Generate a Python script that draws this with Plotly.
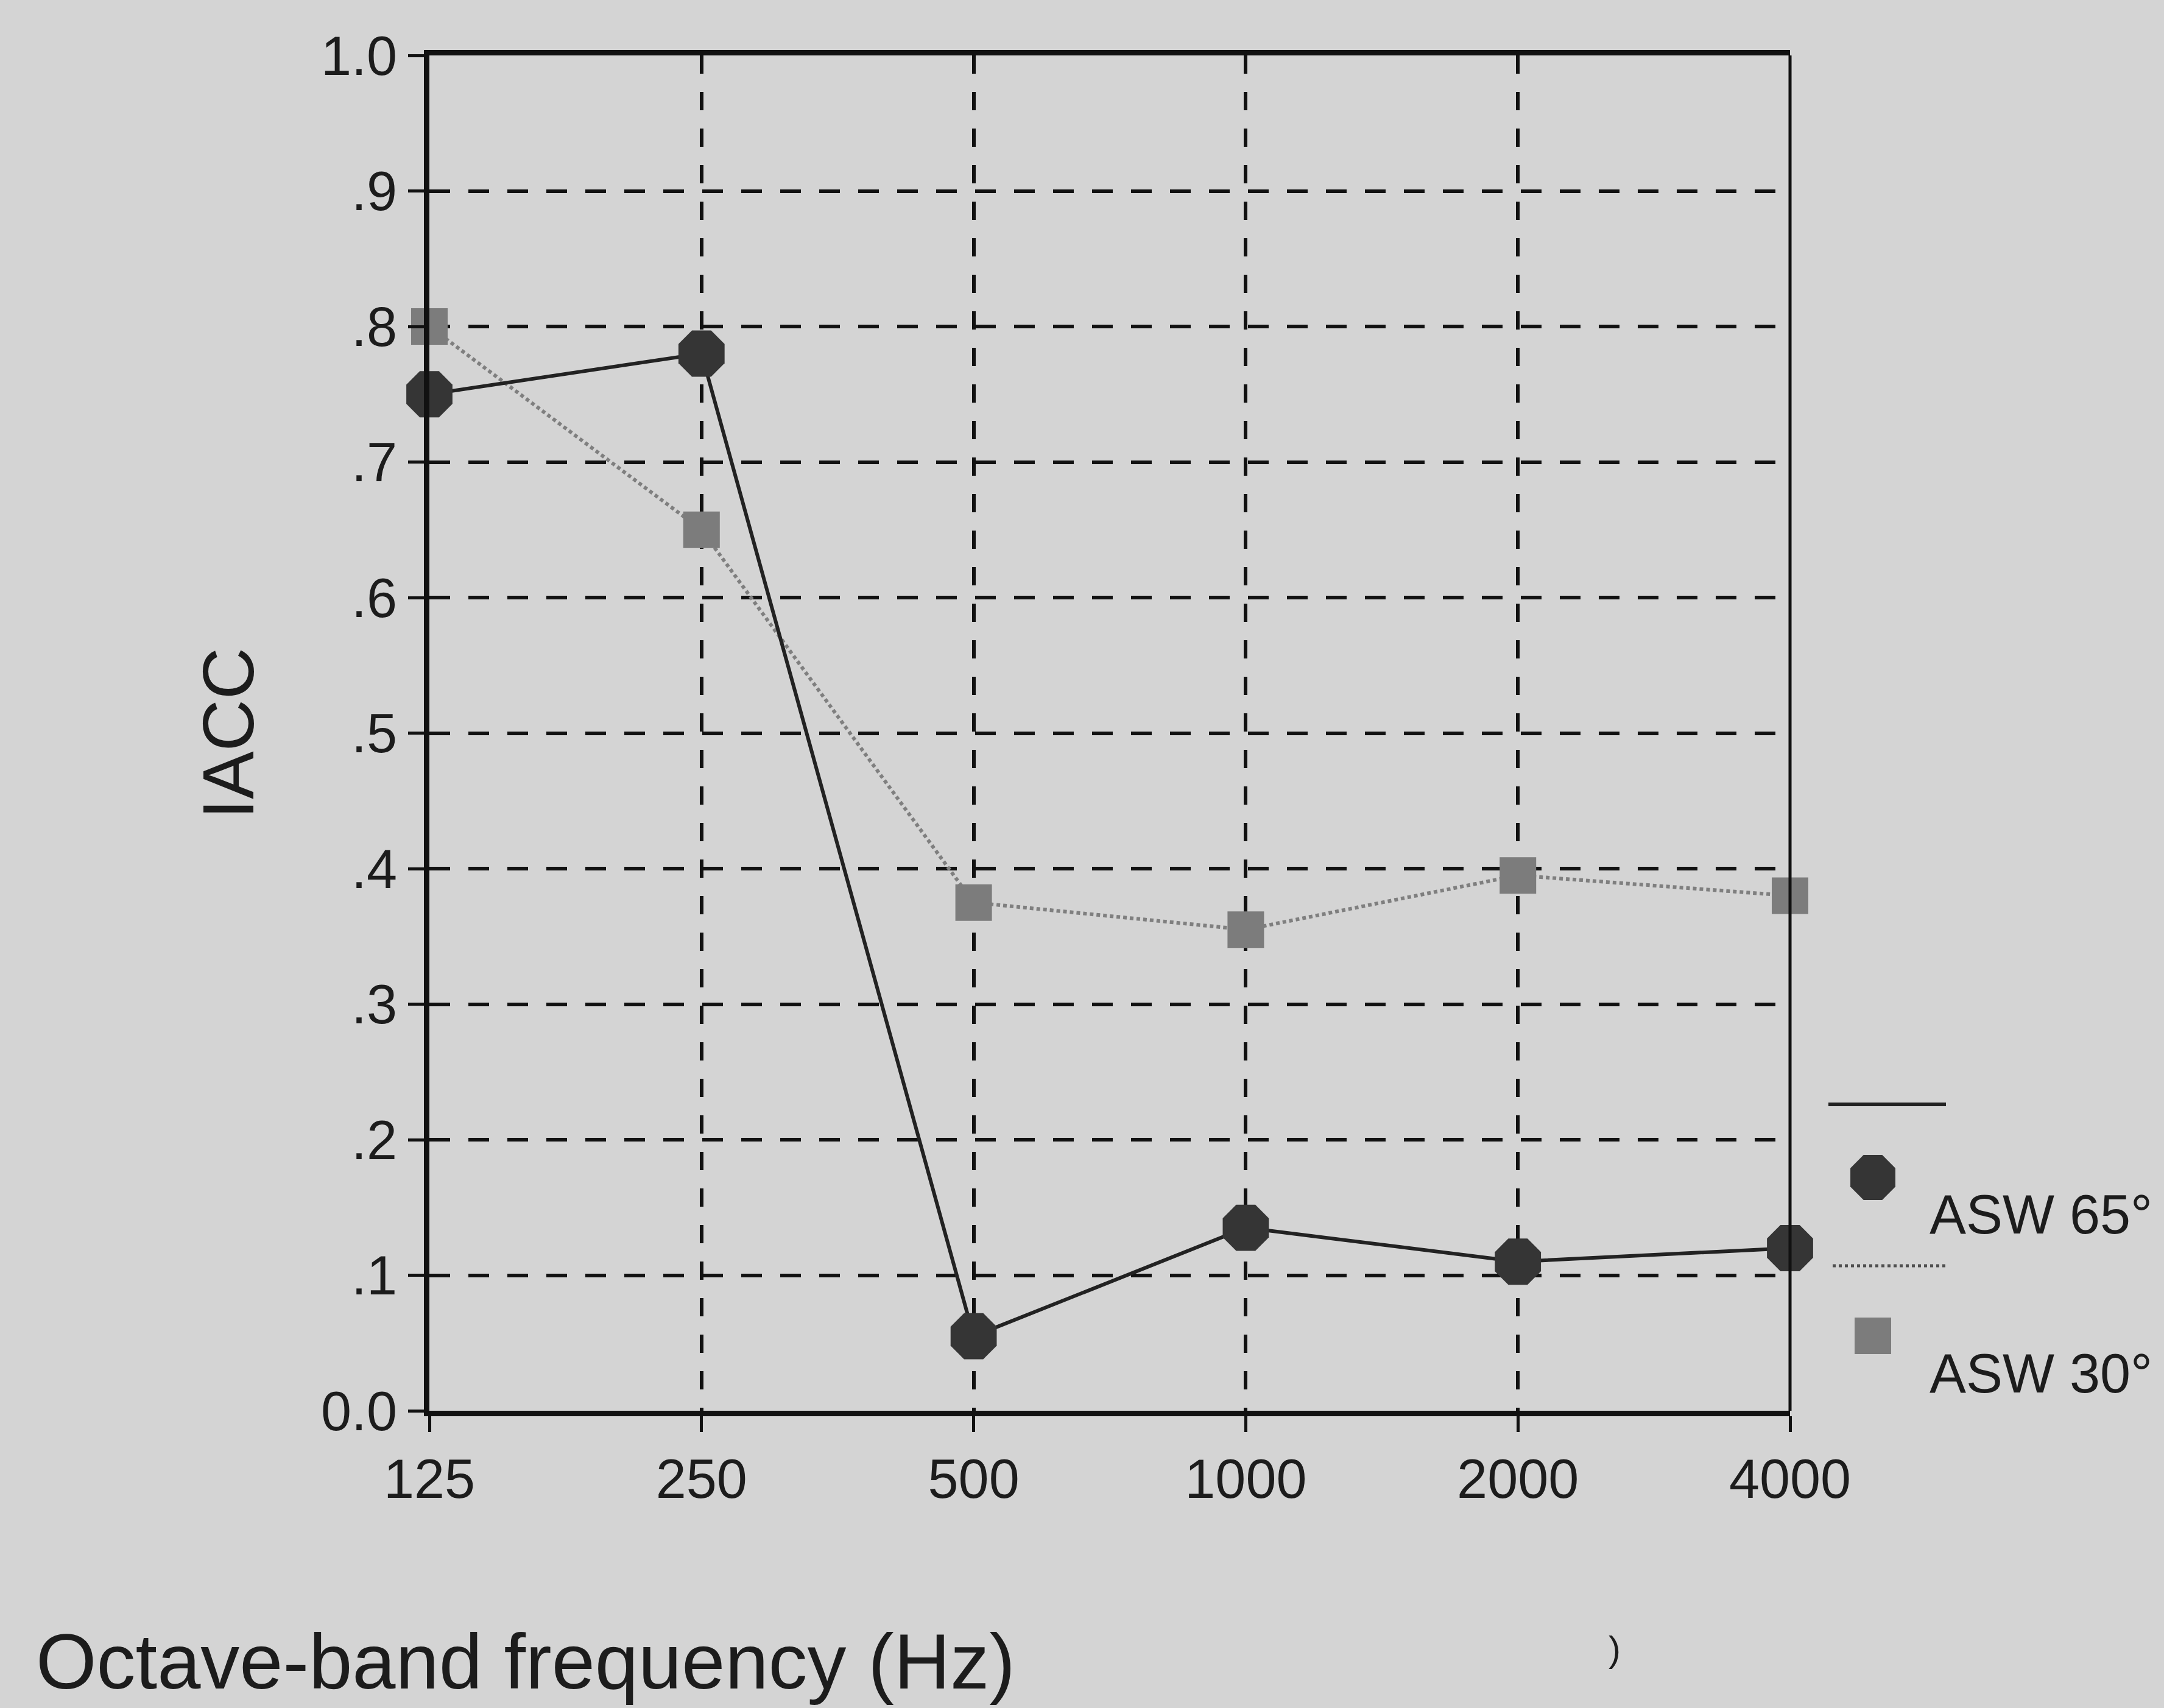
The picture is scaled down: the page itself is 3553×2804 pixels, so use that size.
import math
import plotly.graph_objects as go

# Octave-band centre frequencies (Hz) and measured IACC values
freqs = ["125", "250", "500", "1000", "2000", "4000"]
asw65 = [0.75, 0.78, 0.055, 0.135, 0.11, 0.12]
asw30 = [0.80, 0.65, 0.375, 0.355, 0.395, 0.38]

y_tickvals = [0.0, 0.1, 0.2, 0.3, 0.4, 0.5, 0.6, 0.7, 0.8, 0.9, 1.0]
y_ticktext = ["0.0", ".1", ".2", ".3", ".4", ".5", ".6", ".7", ".8", ".9", "1.0"]

series_names = ["ASW 65°", "ASW 30°"]

FONT = "Liberation Sans, Arial, Helvetica, sans-serif"
BG = "#d4d4d4"
INK = "#1c1c1c"
DARK = "#353535"
GREY = "#7c7c7c"

W, H = 3553, 2804
ML, MR, MT, MB = 705, 614, 91, 488
PW, PH = W - ML - MR, H - MT - MB   # plot area in px

fig = go.Figure()

# ASW 30° : grey squares joined by a dotted line
fig.add_trace(go.Scatter(
    x=freqs, y=asw30, mode="lines+markers", name=series_names[1],
    line=dict(color="#7f7f7f", width=6, dash="6px,5px"),
    marker=dict(symbol="square", size=60, color=GREY),
    cliponaxis=False,
))

# ASW 65° : dark octagonal dots joined by a solid line
fig.add_trace(go.Scatter(
    x=freqs, y=asw65, mode="lines+markers", name=series_names[0],
    line=dict(color="#222222", width=6),
    marker=dict(symbol="octagon", size=82, color=DARK),
    cliponaxis=False,
))


# ---- hand-laid key to the right of the frame (paper coordinates) ----
def px_to_paper(px, py):
    return (px - ML) / PW, (H - MB - py) / PH


def octagon_path(cx, cy, r):
    pts = []
    for k in range(8):
        a = math.radians(22.5 + 45 * k)
        pts.append(px_to_paper(cx + r * math.cos(a), cy + r * math.sin(a)))
    return "M " + " L ".join(f"{x:.5f},{y:.5f}" for x, y in pts) + " Z"


def square_box(cx, cy, half):
    x0, y0 = px_to_paper(cx - half, cy + half)
    x1, y1 = px_to_paper(cx + half, cy - half)
    return dict(x0=x0, y0=y0, x1=x1, y1=y1)


def hline(xa, xb, y):
    x0, yy = px_to_paper(xa, y)
    x1, _ = px_to_paper(xb, y)
    return dict(x0=x0, x1=x1, y0=yy, y1=yy)


shapes = [
    # thinner right-hand edge of the frame
    dict(type="line", xref="paper", yref="paper", x0=1, x1=1, y0=0, y1=1,
         line=dict(color="#111111", width=5)),
    # key: solid line + dot
    dict(type="line", xref="paper", yref="paper", **hline(3002, 3195, 1813),
         line=dict(color="#222222", width=6)),
    dict(type="path", xref="paper", yref="paper",
         path=octagon_path(3075, 1933, 40), fillcolor=DARK,
         line=dict(width=0)),
    # key: dotted line + square
    dict(type="line", xref="paper", yref="paper", **hline(3009, 3195, 2078),
         line=dict(color="#505050", width=5, dash="dot")),
    dict(type="rect", xref="paper", yref="paper", **square_box(3075, 2193, 30),
         fillcolor=GREY, line=dict(width=0)),
]

annotations = [
    dict(text=series_names[0], x=px_to_paper(3166, 0)[0], y=px_to_paper(0, 1994)[1],
         xref="paper", yref="paper", xanchor="left", yanchor="middle",
         showarrow=False, font=dict(family=FONT, size=90, color=INK)),
    dict(text=series_names[1], x=px_to_paper(3166, 0)[0], y=px_to_paper(0, 2255)[1],
         xref="paper", yref="paper", xanchor="left", yanchor="middle",
         showarrow=False, font=dict(family=FONT, size=90, color=INK)),
    dict(text="IACC", x=-0.148, y=0.5, xref="paper", yref="paper",
         xanchor="center", yanchor="middle", textangle=-90, showarrow=False,
         font=dict(family=FONT, size=118, color=INK)),
    dict(text="Octave-band frequency (Hz)", x=-0.290, y=-0.185,
         xref="paper", yref="paper", xanchor="left", yanchor="middle",
         showarrow=False, font=dict(family=FONT, size=128, color=INK)),
    dict(text=")", x=0.871, y=-0.176, xref="paper", yref="paper",
         xanchor="center", yanchor="middle", showarrow=False,
         font=dict(family=FONT, size=60, color=INK)),
]

fig.update_layout(
    width=W, height=H,
    margin=dict(l=ML, r=MR, t=MT, b=MB, autoexpand=False),
    paper_bgcolor=BG, plot_bgcolor=BG,
    showlegend=False,
    font=dict(family=FONT, color=INK),
    annotations=annotations,
    shapes=shapes,
    xaxis=dict(
        type="category", range=[0, 5],
        showline=True, linecolor="#111111", linewidth=9, mirror=True,
        ticks="outside", ticklen=26, tickwidth=5, tickcolor="#111111",
        tickfont=dict(family=FONT, size=90, color=INK),
        showgrid=True, gridcolor="#111111", gridwidth=6, griddash="30px,30px",
        zeroline=False, fixedrange=True,
    ),
    yaxis=dict(
        range=[0, 1], tickvals=y_tickvals, ticktext=y_ticktext,
        showline=True, linecolor="#111111", linewidth=9, mirror=False,
        ticks="outside", ticklen=26, tickwidth=5, tickcolor="#111111",
        tickfont=dict(family=FONT, size=90, color=INK),
        showgrid=True, gridcolor="#111111", gridwidth=6, griddash="34px,30px",
        zeroline=False, fixedrange=True,
    ),
)

fig.write_html("out.html")
